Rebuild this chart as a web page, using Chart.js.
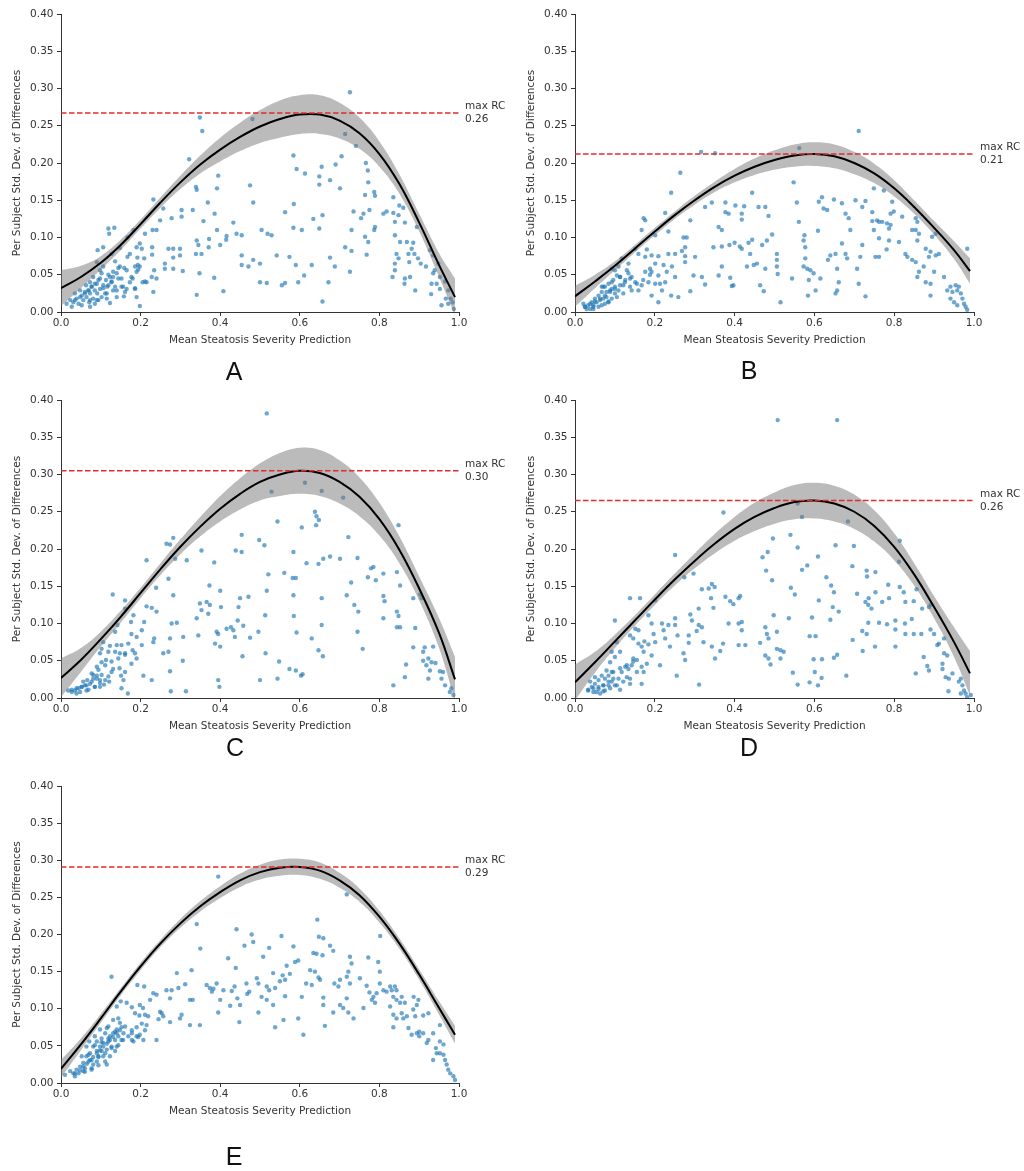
<!DOCTYPE html>
<html><head><meta charset="utf-8">
<script src="https://cdn.jsdelivr.net/npm/chart.js@4.4.1/dist/chart.umd.min.js"></script>
<style>
body{margin:0;background:#fff;width:1024px;height:1171px;position:relative;overflow:hidden;}
canvas{position:absolute;}
.lbl{position:absolute;font-family:'Liberation Sans',Arial,sans-serif;font-size:25px;color:#111;transform:translate(-50%,-50%);line-height:1;}
</style></head><body>
<canvas id="cA" width="512" height="385" style="left:0px;top:0px"></canvas>
<canvas id="cB" width="512" height="385" style="left:512px;top:0px"></canvas>
<canvas id="cC" width="512" height="385" style="left:0px;top:385px"></canvas>
<canvas id="cD" width="512" height="385" style="left:512px;top:385px"></canvas>
<canvas id="cE" width="512" height="401" style="left:0px;top:770px"></canvas>
<div class="lbl" style="left:234px;top:371px">A</div>
<div class="lbl" style="left:749px;top:370px">B</div>
<div class="lbl" style="left:235px;top:747px">C</div>
<div class="lbl" style="left:749px;top:747px">D</div>
<div class="lbl" style="left:234px;top:1156px">E</div>
<script>
// ---------- DATA ----------
const xTickLabels = ['0.0','0.2','0.4','0.6','0.8','1.0'];
const yTickLabels = ['0.00','0.05','0.10','0.15','0.20','0.25','0.30','0.35','0.40'];
const xTitle = 'Mean Steatosis Severity Prediction';
const yTitle = 'Per Subject Std. Dev. of Differences';
const panelNames = ['A','B','C','D','E'];
const maxRC = [0.267, 0.212, 0.305, 0.265, 0.291];
const maxRCLabels = ['0.26','0.21','0.30','0.26','0.29'];
const fitX = [0,0.05,0.1,0.15,0.2,0.25,0.3,0.35,0.4,0.45,0.5,0.55,0.6,0.65,0.7,0.75,0.8,0.85,0.9,0.95,0.99];

const curveA = [0.032,0.047,0.066,0.090,0.118,0.147,0.174,0.198,0.218,0.235,0.249,0.259,0.265,0.265,0.257,0.240,0.212,0.172,0.120,0.063,0.020];
const upperA = [0.056,0.062,0.075,0.097,0.124,0.154,0.183,0.210,0.234,0.254,0.271,0.284,0.291,0.291,0.281,0.261,0.229,0.185,0.132,0.079,0.045];
const lowerA = [0.008,0.032,0.057,0.083,0.112,0.140,0.165,0.186,0.202,0.216,0.227,0.234,0.239,0.239,0.233,0.219,0.195,0.159,0.108,0.047,-0.005];

const curveB = [0.021,0.041,0.062,0.085,0.108,0.130,0.150,0.168,0.183,0.195,0.204,0.210,0.212,0.209,0.200,0.186,0.166,0.141,0.113,0.083,0.055];
const upperB = [0.035,0.050,0.068,0.090,0.113,0.135,0.156,0.175,0.192,0.206,0.217,0.225,0.228,0.225,0.215,0.199,0.177,0.150,0.122,0.095,0.072];
const lowerB = [0.007,0.032,0.056,0.080,0.103,0.125,0.144,0.161,0.174,0.184,0.191,0.195,0.196,0.193,0.185,0.173,0.155,0.132,0.104,0.071,0.038];

const curveC = [0.027,0.051,0.079,0.109,0.141,0.173,0.203,0.230,0.254,0.274,0.290,0.300,0.305,0.302,0.290,0.270,0.240,0.199,0.147,0.087,0.025];
const upperC = [0.053,0.067,0.089,0.117,0.148,0.181,0.213,0.243,0.271,0.295,0.315,0.329,0.336,0.333,0.319,0.296,0.262,0.217,0.163,0.107,0.055];
const lowerC = [0.001,0.035,0.069,0.101,0.134,0.165,0.193,0.217,0.237,0.253,0.265,0.271,0.274,0.271,0.261,0.244,0.218,0.181,0.131,0.067,-0.005];

const curveD = [0.021,0.048,0.076,0.104,0.132,0.159,0.184,0.207,0.227,0.243,0.255,0.263,0.265,0.261,0.250,0.231,0.203,0.166,0.122,0.075,0.033];
const upperD = [0.045,0.062,0.085,0.111,0.139,0.167,0.194,0.220,0.243,0.262,0.276,0.286,0.289,0.285,0.273,0.252,0.221,0.181,0.137,0.095,0.063];
const lowerD = [-0.003,0.034,0.067,0.097,0.125,0.151,0.174,0.194,0.211,0.224,0.234,0.240,0.241,0.237,0.227,0.210,0.185,0.151,0.107,0.055,0.003];

const curveE = [0.019,0.052,0.087,0.123,0.157,0.188,0.215,0.238,0.257,0.273,0.284,0.290,0.291,0.286,0.273,0.253,0.224,0.188,0.146,0.101,0.065];
const upperE = [0.031,0.060,0.093,0.128,0.162,0.193,0.221,0.245,0.265,0.282,0.294,0.301,0.302,0.297,0.283,0.262,0.232,0.195,0.153,0.110,0.077];
const lowerE = [0.007,0.044,0.081,0.118,0.152,0.183,0.209,0.231,0.249,0.264,0.274,0.279,0.280,0.275,0.263,0.244,0.216,0.181,0.139,0.092,0.053];

const pointsA = [[0.726,0.295],[0.349,0.261],[0.355,0.243],[0.322,0.205],[0.481,0.259],[0.714,0.239],[0.741,0.223],[0.584,0.210],[0.592,0.192],[0.613,0.186],[0.655,0.195],[0.690,0.198],[0.705,0.209],[0.701,0.166],[0.676,0.177],[0.649,0.182],[0.649,0.171],[0.766,0.200],[0.771,0.190],[0.772,0.174],[0.764,0.157],[0.787,0.161],[0.789,0.156],[0.775,0.137],[0.835,0.154],[0.850,0.143],[0.860,0.140],[0.818,0.135],[0.810,0.132],[0.835,0.133],[0.735,0.135],[0.760,0.132],[0.754,0.126],[0.730,0.110],[0.764,0.101],[0.772,0.094],[0.789,0.114],[0.787,0.110],[0.714,0.087],[0.730,0.082],[0.768,0.077],[0.726,0.054],[0.688,0.061],[0.676,0.073],[0.672,0.040],[0.657,0.014],[0.839,0.121],[0.848,0.130],[0.864,0.120],[0.839,0.103],[0.852,0.094],[0.869,0.094],[0.885,0.093],[0.881,0.085],[0.894,0.114],[0.843,0.078],[0.848,0.072],[0.873,0.078],[0.875,0.067],[0.888,0.078],[0.897,0.072],[0.904,0.065],[0.839,0.065],[0.839,0.056],[0.833,0.047],[0.864,0.045],[0.863,0.038],[0.877,0.047],[0.890,0.029],[0.917,0.061],[0.927,0.083],[0.935,0.076],[0.935,0.052],[0.931,0.038],[0.930,0.024],[0.944,0.038],[0.952,0.047],[0.952,0.031],[0.965,0.041],[0.973,0.029],[0.967,0.018],[0.973,0.011],[0.979,0.018],[0.984,0.013],[0.956,0.009],[0.987,0.004],[0.939,0.056],[0.948,0.065],
[0.475,0.170],[0.483,0.147],[0.395,0.183],[0.392,0.166],[0.339,0.168],[0.341,0.164],[0.369,0.147],[0.386,0.132],[0.303,0.137],[0.331,0.137],[0.358,0.122],[0.392,0.110],[0.416,0.102],[0.415,0.097],[0.433,0.120],[0.441,0.105],[0.454,0.103],[0.372,0.098],[0.341,0.096],[0.345,0.090],[0.278,0.126],[0.303,0.128],[0.257,0.139],[0.249,0.123],[0.240,0.110],[0.230,0.110],[0.232,0.151],[0.270,0.085],[0.282,0.085],[0.299,0.085],[0.299,0.076],[0.282,0.073],[0.261,0.065],[0.261,0.058],[0.282,0.058],[0.306,0.055],[0.339,0.078],[0.353,0.078],[0.371,0.087],[0.400,0.090],[0.385,0.046],[0.348,0.052],[0.341,0.023],[0.408,0.028],[0.454,0.076],[0.454,0.063],[0.471,0.061],[0.483,0.070],[0.504,0.110],[0.519,0.105],[0.529,0.103],[0.500,0.065],[0.500,0.040],[0.517,0.039],[0.542,0.076],[0.555,0.036],[0.563,0.039],[0.574,0.074],[0.563,0.134],[0.585,0.145],[0.584,0.113],[0.605,0.110],[0.590,0.063],[0.596,0.040],[0.611,0.049],[0.630,0.063],[0.634,0.125],[0.649,0.112],[0.657,0.130],
[0.119,0.112],[0.134,0.113],[0.121,0.105],[0.182,0.110],[0.167,0.100],[0.148,0.086],[0.173,0.078],[0.167,0.074],[0.190,0.087],[0.198,0.092],[0.192,0.073],[0.209,0.072],[0.229,0.087],[0.229,0.077],[0.211,0.105],[0.203,0.085],[0.092,0.083],[0.106,0.087],[0.127,0.078],[0.136,0.068],[0.148,0.061],[0.159,0.059],[0.186,0.061],[0.193,0.063],[0.194,0.057],[0.180,0.045],[0.173,0.040],[0.165,0.031],[0.186,0.031],[0.205,0.040],[0.215,0.040],[0.228,0.047],[0.240,0.045],[0.232,0.027],[0.234,0.056],[0.198,0.008],[0.190,0.020],[0.158,0.021],[0.123,0.012],[0.073,0.007],
[0.014,0.011],[0.023,0.016],[0.031,0.013],[0.039,0.018],[0.044,0.011],[0.052,0.022],[0.056,0.016],[0.060,0.027],[0.064,0.020],[0.069,0.029],[0.073,0.025],[0.077,0.034],[0.081,0.018],[0.085,0.029],[0.090,0.038],[0.091,0.025],[0.098,0.031],[0.098,0.045],[0.102,0.052],[0.106,0.036],[0.111,0.025],[0.113,0.043],[0.116,0.034],[0.123,0.047],[0.127,0.040],[0.131,0.047],[0.136,0.034],[0.140,0.052],[0.144,0.045],[0.131,0.029],[0.048,0.029],[0.035,0.025],[0.063,0.036],[0.073,0.040],[0.081,0.047],[0.098,0.056],[0.090,0.067],[0.106,0.061],[0.071,0.013],[0.094,0.016],[0.115,0.018],[0.027,0.007],[0.052,0.009],[0.085,0.011],[0.140,0.020],[0.156,0.034],[0.152,0.045],
[0.035,0.016],[0.048,0.020],[0.060,0.025],[0.069,0.029],[0.077,0.034],[0.085,0.038],[0.094,0.043],[0.106,0.032],[0.119,0.036],[0.127,0.041],[0.073,0.016],[0.090,0.016],[0.102,0.020],[0.115,0.025],[0.140,0.029],[0.152,0.034],[0.119,0.050],[0.131,0.054],[0.144,0.059],[0.165,0.056],[0.190,0.054],[0.198,0.061],[0.161,0.027],[0.186,0.032],[0.211,0.041],[0.177,0.047]];

const pointsB = [[0.711,0.243],[0.316,0.215],[0.351,0.213],[0.562,0.220],[0.264,0.187],[0.241,0.160],[0.226,0.133],[0.548,0.174],[0.444,0.160],[0.556,0.147],[0.377,0.147],[0.402,0.143],[0.424,0.142],[0.460,0.141],[0.477,0.141],[0.326,0.141],[0.343,0.147],[0.377,0.134],[0.385,0.132],[0.418,0.132],[0.418,0.124],[0.289,0.123],[0.360,0.114],[0.368,0.110],[0.234,0.108],[0.272,0.100],[0.280,0.100],[0.485,0.129],[0.494,0.104],[0.481,0.096],[0.469,0.090],[0.444,0.097],[0.435,0.093],[0.413,0.088],[0.400,0.093],[0.387,0.090],[0.368,0.088],[0.347,0.087],[0.418,0.085],[0.439,0.078],[0.448,0.063],[0.456,0.065],[0.477,0.058],[0.431,0.061],[0.368,0.061],[0.360,0.049],[0.389,0.046],[0.393,0.035],[0.397,0.036],[0.464,0.036],[0.473,0.028],[0.318,0.047],[0.297,0.049],[0.326,0.037],[0.289,0.028],[0.301,0.074],[0.276,0.067],[0.276,0.075],[0.276,0.087],[0.268,0.082],[0.251,0.078],[0.234,0.078],[0.243,0.061],[0.251,0.047],[0.241,0.022],[0.259,0.020],[0.209,0.013],[0.218,0.029],[0.506,0.078],[0.506,0.070],[0.506,0.061],[0.508,0.051],[0.515,0.013],[0.544,0.045],[0.561,0.121],[0.575,0.103],[0.573,0.096],[0.577,0.087],[0.577,0.072],[0.573,0.061],[0.582,0.058],[0.590,0.056],[0.598,0.052],[0.586,0.043],[0.584,0.022],[0.603,0.029],[0.615,0.045],[0.609,0.109],[0.611,0.148],[0.619,0.154],[0.623,0.139],[0.632,0.137],[0.649,0.151],[0.669,0.146],[0.678,0.132],[0.686,0.126],[0.690,0.110],[0.703,0.150],[0.720,0.141],[0.728,0.149],[0.745,0.134],[0.745,0.122],[0.749,0.110],[0.757,0.123],[0.762,0.121],[0.770,0.121],[0.782,0.119],[0.787,0.112],[0.791,0.117],[0.762,0.099],[0.787,0.096],[0.812,0.094],[0.781,0.084],[0.762,0.074],[0.795,0.148],[0.799,0.135],[0.791,0.132],[0.749,0.166],[0.774,0.163],[0.820,0.128],[0.854,0.126],[0.858,0.121],[0.854,0.110],[0.862,0.105],[0.845,0.110],[0.858,0.096],[0.895,0.101],[0.904,0.105],[0.879,0.085],[0.891,0.081],[0.904,0.076],[0.887,0.074],[0.912,0.078],[0.845,0.070],[0.833,0.074],[0.828,0.078],[0.854,0.067],[0.874,0.061],[0.862,0.054],[0.858,0.047],[0.879,0.040],[0.891,0.038],[0.891,0.022],[0.900,0.054],[0.925,0.047],[0.678,0.078],[0.682,0.072],[0.669,0.092],[0.640,0.076],[0.634,0.070],[0.653,0.078],[0.657,0.058],[0.657,0.029],[0.653,0.025],[0.661,0.040],[0.707,0.058],[0.711,0.038],[0.715,0.074],[0.720,0.090],[0.728,0.021],[0.753,0.074],[0.933,0.029],[0.941,0.034],[0.946,0.027],[0.954,0.036],[0.958,0.029],[0.962,0.034],[0.967,0.025],[0.971,0.018],[0.975,0.011],[0.979,0.007],[0.950,0.013],[0.958,0.009],[0.983,0.003],[0.941,0.018],[0.983,0.085],
[0.176,0.123],[0.172,0.126],[0.167,0.110],[0.201,0.103],[0.151,0.085],[0.159,0.078],[0.176,0.074],[0.180,0.084],[0.192,0.076],[0.209,0.075],[0.201,0.065],[0.188,0.058],[0.176,0.054],[0.192,0.054],[0.209,0.049],[0.222,0.063],[0.230,0.054],[0.184,0.040],[0.201,0.038],[0.213,0.038],[0.226,0.040],[0.167,0.036],[0.159,0.029],[0.192,0.022],[0.134,0.065],[0.130,0.056],[0.142,0.047],[0.151,0.040],[0.126,0.043],[0.121,0.036],[0.138,0.034],[0.117,0.072],[0.109,0.061],[0.100,0.056],[0.092,0.058],[0.105,0.049],[0.113,0.047],[0.096,0.043],[0.084,0.038],[0.075,0.034],[0.088,0.029],[0.100,0.025],[0.109,0.029],[0.067,0.027],[0.059,0.022],[0.050,0.018],[0.042,0.013],[0.033,0.009],[0.025,0.007],[0.029,0.004],[0.038,0.004],[0.046,0.009],[0.054,0.013],[0.063,0.016],[0.071,0.018],[0.079,0.020],[0.092,0.018],[0.046,0.004],[0.021,0.011],[0.059,0.007],[0.075,0.011],[0.084,0.013],[0.067,0.034],[0.079,0.027],[0.092,0.031],[0.100,0.034],
[0.025,0.007],[0.038,0.011],[0.050,0.014],[0.063,0.018],[0.075,0.022],[0.088,0.027],[0.100,0.031],[0.113,0.036],[0.125,0.040],[0.138,0.045],[0.046,0.007],[0.067,0.009],[0.084,0.014],[0.105,0.020],[0.121,0.025],[0.142,0.029],[0.071,0.034],[0.092,0.040],[0.113,0.047],[0.134,0.052],[0.155,0.038],[0.171,0.043],[0.188,0.050]];

const pointsC = [[0.517,0.382],[0.613,0.289],[0.529,0.277],[0.655,0.278],[0.709,0.269],[0.638,0.250],[0.642,0.244],[0.648,0.239],[0.641,0.232],[0.544,0.237],[0.605,0.229],[0.722,0.216],[0.848,0.232],[0.454,0.219],[0.439,0.198],[0.454,0.196],[0.353,0.198],[0.385,0.182],[0.498,0.212],[0.511,0.205],[0.282,0.215],[0.265,0.207],[0.274,0.206],[0.215,0.185],[0.287,0.187],[0.316,0.185],[0.584,0.196],[0.617,0.181],[0.647,0.180],[0.659,0.187],[0.676,0.190],[0.701,0.187],[0.745,0.188],[0.779,0.174],[0.785,0.176],[0.771,0.162],[0.791,0.158],[0.810,0.167],[0.844,0.169],[0.852,0.151],[0.729,0.155],[0.561,0.168],[0.582,0.161],[0.590,0.161],[0.521,0.166],[0.517,0.144],[0.584,0.138],[0.655,0.134],[0.718,0.138],[0.810,0.137],[0.813,0.130],[0.885,0.134],[0.902,0.139],[0.906,0.134],[0.737,0.125],[0.747,0.116],[0.844,0.116],[0.848,0.110],[0.844,0.095],[0.852,0.095],[0.810,0.107],[0.585,0.110],[0.513,0.111],[0.592,0.088],[0.630,0.080],[0.655,0.098],[0.745,0.089],[0.758,0.066],[0.890,0.094],[0.910,0.062],[0.914,0.068],[0.885,0.068],[0.935,0.069],[0.910,0.050],[0.923,0.053],[0.931,0.048],[0.941,0.047],[0.918,0.044],[0.927,0.037],[0.923,0.026],[0.952,0.036],[0.960,0.035],[0.956,0.026],[0.965,0.017],[0.977,0.008],[0.986,0.004],[0.981,0.013],[0.867,0.045],[0.864,0.028],[0.835,0.017],[0.647,0.064],[0.658,0.056],[0.607,0.032],[0.603,0.030],[0.574,0.039],[0.590,0.037],[0.548,0.049],[0.544,0.026],[0.514,0.060],[0.500,0.024],[0.496,0.089],[0.475,0.081],[0.458,0.097],[0.444,0.104],[0.456,0.056],[0.437,0.082],[0.433,0.091],[0.416,0.093],[0.427,0.095],[0.450,0.134],[0.471,0.136],[0.446,0.122],[0.400,0.144],[0.402,0.122],[0.373,0.151],[0.366,0.129],[0.374,0.125],[0.370,0.113],[0.349,0.127],[0.353,0.118],[0.341,0.107],[0.391,0.089],[0.395,0.086],[0.387,0.073],[0.400,0.069],[0.395,0.024],[0.398,0.015],[0.345,0.084],[0.307,0.082],[0.306,0.050],[0.314,0.009],[0.276,0.009],[0.274,0.036],[0.270,0.062],[0.257,0.060],[0.274,0.080],[0.278,0.100],[0.291,0.101],[0.282,0.138],[0.270,0.160],[0.239,0.148],[0.228,0.024],[0.232,0.075],[0.234,0.080],[0.240,0.116],[0.228,0.121],[0.215,0.123],[0.209,0.102],[0.203,0.091],[0.203,0.071],[0.207,0.030],[0.182,0.111],[0.176,0.102],[0.177,0.086],[0.190,0.082],[0.180,0.064],[0.186,0.060],[0.190,0.053],[0.177,0.046],[0.169,0.073],[0.161,0.131],[0.161,0.120],[0.130,0.139],[0.136,0.089],[0.142,0.098],[0.140,0.071],[0.152,0.071],[0.136,0.062],[0.148,0.060],[0.161,0.060],[0.123,0.070],[0.119,0.062],[0.106,0.075],[0.102,0.066],[0.098,0.060],[0.113,0.051],[0.102,0.048],[0.090,0.042],[0.131,0.039],[0.147,0.040],[0.161,0.035],[0.151,0.030],[0.157,0.024],[0.152,0.013],[0.168,0.006],[0.121,0.022],[0.098,0.024],[0.090,0.030],[0.081,0.026],[0.073,0.019],[0.066,0.024],[0.060,0.017],[0.052,0.015],[0.044,0.013],[0.035,0.010],[0.027,0.008],[0.048,0.008],[0.064,0.010],[0.085,0.015],[0.098,0.015],[0.108,0.018],[0.056,0.022],[0.077,0.033],[0.018,0.010],[0.039,0.006],
[0.027,0.011],[0.039,0.013],[0.052,0.015],[0.064,0.017],[0.077,0.022],[0.090,0.026],[0.102,0.031],[0.069,0.011],[0.085,0.015],[0.098,0.020],[0.111,0.024],[0.119,0.029],[0.127,0.035],[0.081,0.031],[0.094,0.038],[0.111,0.044],[0.127,0.049],[0.144,0.053],[0.161,0.058]];

const pointsD = [[0.508,0.373],[0.657,0.373],[0.372,0.249],[0.558,0.261],[0.569,0.243],[0.684,0.237],[0.540,0.219],[0.496,0.214],[0.558,0.202],[0.470,0.189],[0.483,0.196],[0.609,0.190],[0.653,0.205],[0.699,0.204],[0.814,0.211],[0.812,0.183],[0.695,0.177],[0.251,0.192],[0.274,0.162],[0.297,0.167],[0.479,0.171],[0.582,0.178],[0.569,0.172],[0.494,0.158],[0.630,0.162],[0.731,0.171],[0.753,0.169],[0.732,0.163],[0.707,0.140],[0.785,0.152],[0.814,0.149],[0.824,0.142],[0.856,0.146],[0.728,0.129],[0.736,0.134],[0.735,0.125],[0.743,0.120],[0.753,0.142],[0.770,0.129],[0.787,0.134],[0.828,0.129],[0.849,0.130],[0.870,0.120],[0.887,0.122],[0.891,0.125],[0.642,0.151],[0.649,0.142],[0.646,0.122],[0.661,0.116],[0.640,0.105],[0.611,0.131],[0.594,0.108],[0.541,0.148],[0.551,0.139],[0.536,0.107],[0.498,0.111],[0.506,0.089],[0.477,0.095],[0.481,0.086],[0.485,0.080],[0.464,0.074],[0.588,0.083],[0.603,0.083],[0.506,0.066],[0.515,0.064],[0.523,0.062],[0.477,0.057],[0.485,0.053],[0.490,0.045],[0.515,0.053],[0.546,0.034],[0.558,0.018],[0.588,0.021],[0.601,0.035],[0.609,0.017],[0.598,0.052],[0.619,0.052],[0.618,0.027],[0.649,0.054],[0.657,0.058],[0.680,0.030],[0.696,0.078],[0.720,0.090],[0.731,0.086],[0.735,0.101],[0.721,0.063],[0.752,0.069],[0.762,0.101],[0.782,0.099],[0.803,0.104],[0.803,0.092],[0.827,0.100],[0.828,0.086],[0.803,0.069],[0.844,0.106],[0.849,0.086],[0.868,0.086],[0.891,0.092],[0.900,0.086],[0.912,0.073],[0.908,0.071],[0.925,0.080],[0.874,0.055],[0.883,0.043],[0.887,0.037],[0.854,0.033],[0.921,0.046],[0.925,0.060],[0.933,0.057],[0.921,0.039],[0.929,0.028],[0.936,0.009],[0.937,0.026],[0.946,0.033],[0.962,0.022],[0.967,0.026],[0.971,0.017],[0.975,0.010],[0.979,0.006],[0.983,0.001],[0.967,0.006],[0.992,0.004],
[0.343,0.153],[0.335,0.147],[0.318,0.146],[0.350,0.149],[0.377,0.136],[0.389,0.130],[0.397,0.126],[0.410,0.134],[0.414,0.137],[0.341,0.134],[0.347,0.121],[0.310,0.120],[0.289,0.112],[0.293,0.104],[0.310,0.098],[0.318,0.095],[0.305,0.090],[0.285,0.084],[0.285,0.074],[0.272,0.060],[0.276,0.051],[0.322,0.075],[0.343,0.069],[0.364,0.063],[0.371,0.073],[0.385,0.100],[0.410,0.100],[0.418,0.091],[0.418,0.102],[0.410,0.071],[0.427,0.071],[0.351,0.053],[0.311,0.018],[0.255,0.030],[0.251,0.098],[0.251,0.107],[0.257,0.084],[0.234,0.098],[0.218,0.100],[0.222,0.091],[0.226,0.080],[0.238,0.069],[0.213,0.044],[0.201,0.131],[0.184,0.111],[0.192,0.100],[0.197,0.086],[0.201,0.075],[0.184,0.072],[0.174,0.076],[0.192,0.057],[0.163,0.134],[0.138,0.134],[0.100,0.104],[0.138,0.084],[0.151,0.093],[0.159,0.091],[0.146,0.080],[0.159,0.073],[0.167,0.069],[0.172,0.062],[0.180,0.046],[0.172,0.035],[0.167,0.019],[0.146,0.053],[0.155,0.051],[0.142,0.044],[0.134,0.039],[0.126,0.042],[0.117,0.035],[0.130,0.028],[0.138,0.019],[0.109,0.026],[0.113,0.011],[0.105,0.075],[0.113,0.062],[0.092,0.062],[0.100,0.055],[0.088,0.048],[0.092,0.035],[0.084,0.030],[0.075,0.026],[0.067,0.030],[0.059,0.024],[0.050,0.019],[0.042,0.015],[0.033,0.010],[0.046,0.008],[0.059,0.012],[0.071,0.017],[0.084,0.017],[0.092,0.022],[0.100,0.017],[0.063,0.006],[0.075,0.010],[0.038,0.022],[0.050,0.028],[0.079,0.037],
[0.033,0.011],[0.046,0.013],[0.059,0.015],[0.071,0.017],[0.084,0.022],[0.096,0.026],[0.054,0.008],[0.071,0.009],[0.088,0.013],[0.105,0.017],[0.121,0.022],[0.138,0.026],[0.113,0.040],[0.130,0.044],[0.146,0.049],[0.155,0.035],[0.167,0.042],[0.096,0.035]];

const pointsE = [[0.395,0.278],[0.718,0.254],[0.644,0.220],[0.441,0.207],[0.341,0.214],[0.479,0.200],[0.554,0.198],[0.648,0.197],[0.659,0.195],[0.802,0.198],[0.350,0.181],[0.461,0.185],[0.483,0.190],[0.523,0.182],[0.584,0.184],[0.634,0.175],[0.642,0.174],[0.657,0.172],[0.676,0.185],[0.684,0.178],[0.420,0.168],[0.439,0.155],[0.508,0.170],[0.567,0.158],[0.588,0.163],[0.596,0.165],[0.575,0.147],[0.557,0.145],[0.550,0.137],[0.563,0.139],[0.533,0.148],[0.538,0.128],[0.523,0.125],[0.517,0.130],[0.492,0.141],[0.496,0.134],[0.466,0.134],[0.473,0.123],[0.436,0.130],[0.429,0.124],[0.408,0.125],[0.391,0.134],[0.383,0.127],[0.374,0.128],[0.366,0.132],[0.379,0.123],[0.400,0.112],[0.395,0.095],[0.425,0.104],[0.443,0.114],[0.450,0.105],[0.448,0.082],[0.468,0.120],[0.496,0.095],[0.504,0.116],[0.517,0.112],[0.533,0.105],[0.538,0.075],[0.559,0.085],[0.563,0.117],[0.596,0.087],[0.605,0.116],[0.609,0.065],[0.616,0.134],[0.626,0.152],[0.638,0.150],[0.647,0.142],[0.651,0.139],[0.630,0.132],[0.659,0.115],[0.659,0.105],[0.663,0.077],[0.684,0.095],[0.687,0.134],[0.697,0.130],[0.701,0.139],[0.718,0.143],[0.722,0.150],[0.726,0.170],[0.730,0.161],[0.726,0.134],[0.718,0.114],[0.701,0.105],[0.709,0.101],[0.722,0.095],[0.735,0.087],[0.751,0.141],[0.760,0.101],[0.768,0.131],[0.772,0.169],[0.775,0.122],[0.781,0.112],[0.785,0.116],[0.789,0.108],[0.793,0.121],[0.797,0.163],[0.801,0.150],[0.801,0.134],[0.810,0.125],[0.818,0.123],[0.827,0.130],[0.831,0.125],[0.839,0.130],[0.843,0.125],[0.835,0.116],[0.843,0.112],[0.852,0.108],[0.856,0.116],[0.864,0.108],[0.827,0.103],[0.835,0.092],[0.843,0.087],[0.856,0.094],[0.860,0.087],[0.869,0.090],[0.886,0.116],[0.894,0.105],[0.898,0.112],[0.885,0.099],[0.890,0.090],[0.910,0.091],[0.923,0.094],[0.873,0.074],[0.835,0.075],[0.881,0.065],[0.894,0.067],[0.900,0.069],[0.910,0.067],[0.900,0.063],[0.919,0.054],[0.923,0.058],[0.935,0.067],[0.952,0.078],[0.952,0.056],[0.961,0.052],[0.942,0.047],[0.944,0.040],[0.952,0.040],[0.961,0.038],[0.935,0.031],[0.965,0.031],[0.969,0.025],[0.973,0.018],[0.978,0.013],[0.986,0.009],[0.990,0.004],
[0.127,0.143],[0.165,0.108],[0.178,0.102],[0.140,0.103],[0.150,0.110],[0.186,0.094],[0.192,0.132],[0.209,0.130],[0.198,0.105],[0.206,0.101],[0.197,0.091],[0.211,0.092],[0.219,0.090],[0.224,0.112],[0.215,0.078],[0.232,0.121],[0.240,0.119],[0.249,0.096],[0.253,0.094],[0.257,0.090],[0.245,0.086],[0.240,0.058],[0.265,0.125],[0.274,0.114],[0.278,0.125],[0.291,0.148],[0.295,0.128],[0.303,0.092],[0.299,0.087],[0.274,0.082],[0.324,0.112],[0.331,0.112],[0.324,0.078],[0.328,0.152],[0.349,0.078],[0.312,0.133],
[0.010,0.011],[0.023,0.016],[0.031,0.013],[0.039,0.018],[0.048,0.022],[0.044,0.013],[0.056,0.027],[0.060,0.020],[0.064,0.036],[0.069,0.029],[0.073,0.040],[0.077,0.031],[0.081,0.049],[0.081,0.025],[0.090,0.043],[0.090,0.056],[0.094,0.036],[0.098,0.049],[0.102,0.060],[0.102,0.043],[0.106,0.054],[0.111,0.067],[0.115,0.045],[0.119,0.056],[0.123,0.063],[0.123,0.036],[0.127,0.049],[0.131,0.067],[0.136,0.058],[0.140,0.072],[0.140,0.049],[0.144,0.063],[0.148,0.081],[0.152,0.058],[0.157,0.067],[0.161,0.076],[0.169,0.063],[0.178,0.067],[0.182,0.056],[0.190,0.063],[0.198,0.065],[0.207,0.058],[0.085,0.063],[0.098,0.072],[0.115,0.074],[0.064,0.049],[0.052,0.036],[0.071,0.056],[0.056,0.016],[0.035,0.009],[0.077,0.018],[0.090,0.029],[0.106,0.036],[0.136,0.043],[0.115,0.025],[0.144,0.087],[0.131,0.085],[0.119,0.076],
[0.035,0.013],[0.048,0.017],[0.056,0.022],[0.065,0.026],[0.073,0.031],[0.081,0.035],[0.090,0.040],[0.098,0.044],[0.106,0.049],[0.115,0.053],[0.123,0.058],[0.131,0.062],[0.140,0.067],[0.148,0.071],[0.060,0.015],[0.077,0.020],[0.094,0.024],[0.111,0.029],[0.085,0.051],[0.102,0.055],[0.119,0.060],[0.136,0.069],[0.152,0.075],[0.069,0.038],[0.094,0.035],[0.111,0.040],[0.127,0.047],[0.144,0.051],[0.156,0.058],[0.178,0.071],[0.190,0.075],[0.203,0.080],[0.178,0.058],[0.194,0.062],[0.211,0.071]];

// ---------- LAYOUT (pixel geometry of each panel's plot area inside its canvas) ----------
const geo = {
  A:{id:'cA', w:512, h:385, L:61, R:459, T:14, B:312},
  B:{id:'cB', w:512, h:385, L:63, R:462, T:14, B:312},
  C:{id:'cC', w:512, h:385, L:61, R:459, T:15, B:313},
  D:{id:'cD', w:512, h:385, L:63, R:462, T:15, B:313},
  E:{id:'cE', w:512, h:401, L:61, R:459, T:16, B:313}
};
const panelData = {
  A:{pts:pointsA, c:curveA, u:upperA, l:lowerA},
  B:{pts:pointsB, c:curveB, u:upperB, l:lowerB},
  C:{pts:pointsC, c:curveC, u:upperC, l:lowerC},
  D:{pts:pointsD, c:curveD, u:upperD, l:lowerD},
  E:{pts:pointsE, c:curveE, u:upperE, l:lowerE}
};

const FONT = "'DejaVu Sans', sans-serif";
const TXT = '#333';
const FS = 10.5;
const LH = FS * 1.2;

const rcLabelPlugin = {
  id: 'rcLabel',
  afterDraw(chart, args, opts) {
    const {ctx, chartArea, scales} = chart;
    const y = scales.y.getPixelForValue(opts.value);
    ctx.save();
    ctx.font = FS + 'px ' + FONT;
    ctx.fillStyle = TXT;
    ctx.textAlign = 'left';
    ctx.textBaseline = 'middle';
    ctx.fillText('max RC', chartArea.right + 6, y - 6.5);
    ctx.fillText(opts.label, chartArea.right + 6, y + 6.5);
    ctx.restore();
  }
};

panelNames.forEach((name, idx) => {
  const g = geo[name];
  const d = panelData[name];
  const toXY = arr => fitX.map((x, i) => ({x: x, y: arr[i]}));
  const yW = 61;
  const lineBase = {pointRadius:0, tension:0.4};
  new Chart(document.getElementById(g.id), {
    type: 'scatter',
    data: {
      datasets: [
        {type:'scatter', data: d.pts.map(p => ({x:p[0], y:p[1]})), backgroundColor:'rgba(31,119,180,0.65)', borderWidth:0, pointRadius:2.2, pointHoverRadius:2.2, order:5},
        Object.assign({type:'line', data: toXY(d.u), borderWidth:0, borderColor:'rgba(0,0,0,0)', fill:'+1', backgroundColor:'rgba(120,120,120,0.5)', order:4}, lineBase),
        Object.assign({type:'line', data: toXY(d.l), borderWidth:0, borderColor:'rgba(0,0,0,0)', fill:false, order:3}, lineBase),
        Object.assign({type:'line', data: toXY(d.c), borderColor:'#000', borderWidth:2, fill:false, order:2}, lineBase),
        {type:'line', data: [{x:0, y:maxRC[idx]}, {x:1, y:maxRC[idx]}], borderColor:'rgb(222,45,45)', borderWidth:1.5, borderDash:[5.5,2.5], pointRadius:0, fill:false, order:1}
      ]
    },
    options: {
      responsive:false, animation:false, events:[],
      layout:{padding:{left:g.L - yW, right:g.w - g.R, top:g.T, bottom:0}},
      plugins:{legend:{display:false}, tooltip:{enabled:false}, rcLabel:{value:maxRC[idx], label:maxRCLabels[idx]}},
      scales:{
        x:{type:'linear', min:0, max:1,
          ticks:{stepSize:0.2, autoSkip:false, maxRotation:0, padding:1, color:TXT, font:{family:FONT, size:FS},
            callback:(v, i) => xTickLabels[i]},
          grid:{display:true, drawOnChartArea:false, drawTicks:true, tickLength:4, color:TXT},
          border:{display:true, color:TXT, width:1},
          title:{display:true, text:xTitle, color:TXT, font:{family:FONT, size:FS}, padding:{top:0, bottom:(g.h - g.B) - 28 - LH/2}},
          afterFit:s => { s.height = g.h - g.B; }
        },
        y:{type:'linear', min:0, max:0.4,
          ticks:{stepSize:0.05, padding:3.5, color:TXT, font:{family:FONT, size:FS},
            callback:(v, i) => yTickLabels[i]},
          grid:{display:true, drawOnChartArea:false, drawTicks:true, tickLength:4, color:TXT},
          border:{display:true, color:TXT, width:1},
          title:{display:true, text:yTitle, color:TXT, font:{family:FONT, size:FS}, padding:{top:yW - 44 - LH/2, bottom:0}},
          afterFit:s => { s.width = yW; }
        }
      }
    },
    plugins:[rcLabelPlugin]
  });
});
</script>
</body></html>
